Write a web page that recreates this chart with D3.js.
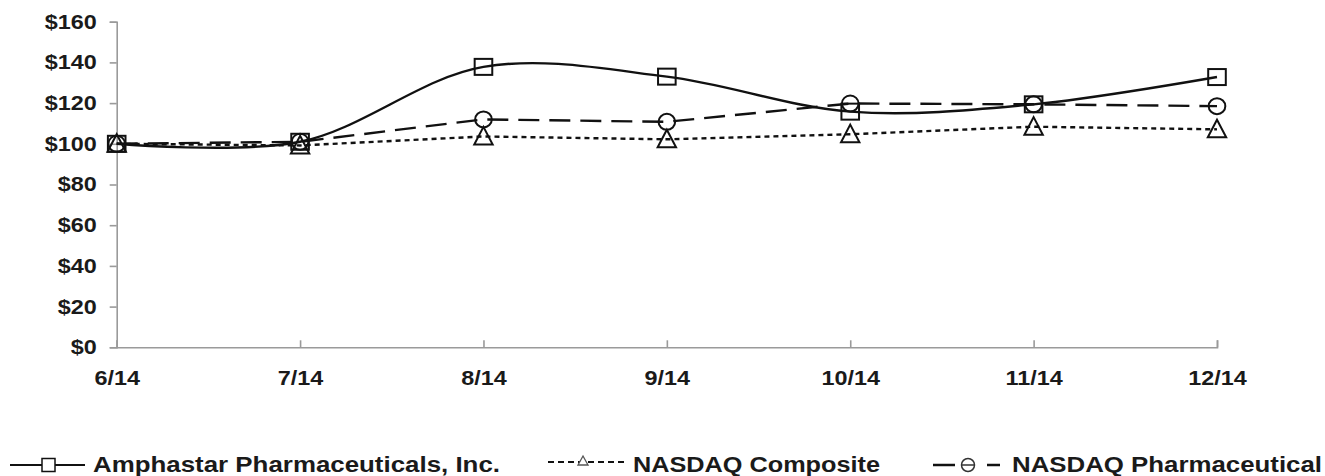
<!DOCTYPE html>
<html>
<head>
<meta charset="utf-8">
<script src="https://cdn.jsdelivr.net/npm/d3@7"></script>
<style>
  html, body { margin: 0; padding: 0; background: #fff; }
  svg { display: block; font-family: "Liberation Sans", Arial, sans-serif; font-weight: bold; }
</style>
</head>
<body>
<svg id="chart" width="1325" height="476"></svg>
<script>
const categories = ["6/14", "7/14", "8/14", "9/14", "10/14", "11/14", "12/14"];
const amphastar = [100, 101, 137.8, 133, 115.8, 119.4, 132.8];
const composite = [100, 99.2, 103.6, 102.2, 104.7, 108.4, 107.1];
const pharma = [100, 101, 112, 110.8, 119.8, 119.4, 118.5];
const yTicks = [0, 20, 40, 60, 80, 100, 120, 140, 160];
const legendLabels = ["Amphastar Pharmaceuticals, Inc.", "NASDAQ Composite", "NASDAQ Pharmaceutical"];

const STRETCH = 1.17;
const svg = d3.select("#chart");
const x = d3.scalePoint().domain(categories).range([116.7, 1217]);
const y = d3.scaleLinear().domain([0, 160]).range([347.3, 21.7]);

function stretch(sel, f) {
  sel.each(function () {
    const w = this.getComputedTextLength();
    d3.select(this).attr("textLength", w * (f || STRETCH)).attr("lengthAdjust", "spacingAndGlyphs");
  });
}

// Y axis
const gy = svg.append("g").attr("transform", "translate(116.7,0)")
  .call(d3.axisLeft(y).tickValues(yTicks).tickSize(7).tickPadding(13).tickFormat(d => "$" + d));
gy.select(".domain").attr("stroke", "#9a9a9a").attr("stroke-width", 1.6);
gy.selectAll(".tick line").attr("stroke", "#9a9a9a").attr("stroke-width", 1.6);
gy.selectAll("text").attr("font-size", 20).attr("fill", "#1a1a1a")
  .attr("font-family", "Liberation Sans, Arial, sans-serif").attr("font-weight", "bold");
stretch(gy.selectAll("text"));

// X axis
const gx = svg.append("g").attr("transform", "translate(0,347.3)")
  .call(d3.axisBottom(x).tickSize(-7).tickPadding(23.5));
gx.select(".domain").attr("stroke", "#9a9a9a").attr("stroke-width", 1.6);
gx.selectAll(".tick line").attr("stroke", "#9a9a9a").attr("stroke-width", 1.6);
gx.selectAll("text").attr("font-size", 20).attr("fill", "#1a1a1a")
  .attr("font-family", "Liberation Sans, Arial, sans-serif").attr("font-weight", "bold");
stretch(gx.selectAll("text"));

const series = [
  { name: legendLabels[0], values: amphastar, dash: null, curve: d3.curveCatmullRom.alpha(0.5), marker: "square" },
  { name: legendLabels[1], values: composite, dash: "5,4", curve: d3.curveLinear, marker: "triangle" },
  { name: legendLabels[2], values: pharma, dash: "21,10", curve: d3.curveLinear, marker: "circle" }
];

series.forEach(s => {
  const line = d3.line().x((d, i) => x(categories[i])).y(d => y(d)).curve(s.curve);
  svg.append("path").datum(s.values)
    .attr("d", line).attr("fill", "none").attr("stroke", "#111")
    .attr("stroke-width", 2.4).attr("stroke-dasharray", s.dash);
});

function drawMarker(g, type, cx, cy, size) {
  if (type === "square") {
    g.append("rect").attr("x", cx - size * 0.55).attr("y", cy - size * 0.5)
      .attr("width", size * 1.1).attr("height", size)
      .attr("fill", "none").attr("stroke", "#111").attr("stroke-width", 2);
  } else if (type === "circle") {
    g.append("ellipse").attr("cx", cx).attr("cy", cy).attr("rx", size * 0.52).attr("ry", size * 0.5)
      .attr("fill", "none").attr("stroke", "#111").attr("stroke-width", 2);
  } else {
    const w = size * 1.15, h = size;
    g.append("path")
      .attr("d", `M${cx},${cy - h * 0.6}L${cx + w / 2},${cy + h * 0.5}L${cx - w / 2},${cy + h * 0.5}Z`)
      .attr("fill", "none").attr("stroke", "#111").attr("stroke-width", 2);
  }
}

series.forEach(s => {
  const g = svg.append("g");
  s.values.forEach((v, i) => drawMarker(g, s.marker, x(categories[i]), y(v), 16));
});

// Legend
const lg = svg.append("g");
const ly = 465;
// item 1
lg.append("line").attr("x1", 10).attr("x2", 85).attr("y1", ly).attr("y2", ly).attr("stroke", "#111").attr("stroke-width", 2);
lg.append("rect").attr("x", 42).attr("y", ly - 6.5).attr("width", 13).attr("height", 13).attr("fill", "#fff").attr("stroke", "#111").attr("stroke-width", 1.5);
// item 2
lg.append("line").attr("x1", 548).attr("x2", 628).attr("y1", ly - 3).attr("y2", ly - 3).attr("stroke", "#111").attr("stroke-width", 2).attr("stroke-dasharray", "6,4");
lg.append("path").attr("d", `M583,${ly - 9}L588,${ly}L578,${ly}Z`).attr("fill", "#fff").attr("stroke", "#555").attr("stroke-width", 1.3);
// item 3
lg.append("line").attr("x1", 933).attr("x2", 955).attr("y1", ly).attr("y2", ly).attr("stroke", "#111").attr("stroke-width", 2.5);
lg.append("line").attr("x1", 987).attr("x2", 1000).attr("y1", ly).attr("y2", ly).attr("stroke", "#111").attr("stroke-width", 2.5);
lg.append("ellipse").attr("cx", 968).attr("cy", ly).attr("rx", 6.5).attr("ry", 6.5).attr("fill", "none").attr("stroke", "#333").attr("stroke-width", 1.5);
lg.append("line").attr("x1", 961).attr("x2", 975).attr("y1", ly).attr("y2", ly).attr("stroke", "#333").attr("stroke-width", 1.5);

const legendX = [93, 633, 1012];
const legendW = [407, 247, 310];
legendLabels.forEach((t, i) => {
  lg.append("text").attr("x", legendX[i]).attr("y", 472).attr("font-size", 22)
    .attr("fill", "#1a1a1a").attr("textLength", legendW[i]).attr("lengthAdjust", "spacingAndGlyphs")
    .text(t);
});
</script>
</body>
</html>
